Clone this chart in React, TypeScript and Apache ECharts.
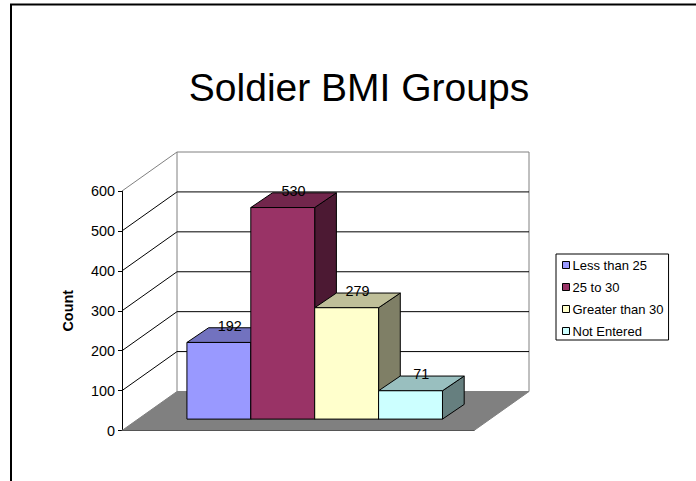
import React, { useEffect, useRef } from "react";
import * as echarts from "echarts";

const groupNames = ["Less than 25", "25 to 30", "Greater than 30", "Not Entered"];
const groupValues = [192, 530, 279, 71];
const frontColors = ["#9999ff", "#993366", "#ffffcc", "#ccffff"];
const topColors = ["#7272bf", "#72264c", "#bfbf99", "#99bfbf"];
const sideColors = ["#4c4c7f", "#4c1933", "#7f7f66", "#667f7f"];
const yTicks = [0, 100, 200, 300, 400, 500, 600];
const titleText = "Soldier BMI Groups";
const axisTitle = "Count";

const wallDx = 55;
const wallDy = -39;
const barDx = 21.7;
const barDy = -14.7;
const barShiftX = 16.7;
const barShiftY = -11.4;
const barRatio = 0.1815;

const pts = (list: number[][]) => ({ points: list });

function renderWalls(_p: any, api: any) {
  const x0 = api.coord([0, 0])[0] - api.size([1, 0])[0] / 2;
  const x1 = x0 + api.size([1, 0])[0];
  const y0 = api.coord([0, 0])[1];
  const yTop = api.coord([0, 600])[1];
  const children: any[] = [
    {
      type: "polygon",
      shape: pts([[x0, y0], [x0 + wallDx, y0 + wallDy], [x1 + wallDx, y0 + wallDy], [x1, y0]]),
      style: { fill: "#808080", stroke: "#808080", lineWidth: 1 },
    },
    {
      type: "polyline",
      shape: pts([[x0, yTop], [x0 + wallDx, yTop + wallDy], [x1 + wallDx, yTop + wallDy], [x1 + wallDx, y0 + wallDy]]),
      style: { fill: "none", stroke: "#808080", lineWidth: 1 },
    },
    {
      type: "line",
      shape: { x1: x0 + wallDx, y1: yTop + wallDy, x2: x0 + wallDx, y2: y0 + wallDy },
      style: { stroke: "#808080", lineWidth: 1 },
    },
  ];
  yTicks.slice(1, -1).forEach((t) => {
    const y = api.coord([0, t])[1];
    children.push({
      type: "polyline",
      shape: pts([[x0, y], [x0 + wallDx, y + wallDy], [x1 + wallDx, y + wallDy]]),
      style: { fill: "none", stroke: "#000000", lineWidth: 1 },
    });
  });
  return { type: "group", children };
}

function makeBar(index: number) {
  return (_p: any, api: any) => {
    const band = api.size([1, 0])[0];
    const center = api.coord([0, 0])[0];
    const w = band * barRatio;
    const left = center + barShiftX + (index - groupValues.length / 2) * w;
    const right = left + w;
    const bottom = api.coord([0, 0])[1] + barShiftY;
    const top = api.coord([0, api.value(1)])[1] + barShiftY;
    const line = { stroke: "#000000", lineWidth: 1, lineJoin: "round" };
    return {
      type: "group",
      children: [
        {
          type: "polygon",
          shape: pts([[right, bottom], [right + barDx, bottom + barDy], [right + barDx, top + barDy], [right, top]]),
          style: { fill: sideColors[index], ...line },
        },
        {
          type: "polygon",
          shape: pts([[left, top], [left + barDx, top + barDy], [right + barDx, top + barDy], [right, top]]),
          style: { fill: topColors[index], ...line },
        },
        {
          type: "rect",
          shape: { x: left, y: top, width: w, height: bottom - top },
          style: { fill: frontColors[index], ...line },
        },
        {
          type: "text",
          z2: 50,
          style: {
            x: (left + right) / 2 + barDx / 2,
            y: top + barDy / 2 - 9.5,
            text: String(api.value(1)),
            fill: "#000000",
            font: '14.4px "Liberation Sans"',
            align: "center",
            verticalAlign: "middle",
          },
        },
      ],
    };
  };
}

export default function App() {
  const ref = useRef<HTMLDivElement>(null);
  useEffect(() => {
    const chart = echarts.init(ref.current!, null, { renderer: "svg" });
    chart.setOption({
      animation: false,
      backgroundColor: "#ffffff",
      textStyle: { fontFamily: "Liberation Sans" },
      title: {
        text: titleText,
        left: 354,
        top: 63,
        textAlign: "center",
        textStyle: { fontFamily: "Liberation Sans", fontSize: 39, fontWeight: "normal", color: "#000000" },
      },
      grid: { left: 122, top: 191, width: 352, height: 239.5 },
      xAxis: {
        type: "category",
        data: [""],
        boundaryGap: true,
        axisTick: { show: false },
        axisLabel: { show: false },
        axisLine: { lineStyle: { color: "#555555", width: 1 } },
        z: 1,
      },
      yAxis: {
        type: "value",
        min: 0,
        max: 600,
        interval: 100,
        name: axisTitle,
        nameLocation: "middle",
        nameGap: 47,
        nameRotate: 90,
        nameTextStyle: { fontFamily: "Liberation Sans", fontSize: 14.4, fontWeight: "bold", color: "#000000" },
        axisLine: { show: true, lineStyle: { color: "#000000", width: 1 } },
        axisTick: { show: true, length: 4, lineStyle: { color: "#000000" } },
        axisLabel: { fontFamily: "Liberation Sans", fontSize: 14.4, color: "#000000", margin: 7 },
        splitLine: { show: false },
      },
      legend: {
        left: 556,
        top: 254,
        orient: "vertical",
        padding: [4.5, 5, 2.5, 6],
        itemWidth: 7,
        itemHeight: 7,
        itemGap: 9,
        borderColor: "#000000",
        borderWidth: 1,
        backgroundColor: "#ffffff",
        icon: "rect",
        textStyle: { fontFamily: "Liberation Sans", fontSize: 13, color: "#000000", padding: [0, 0, 0, -2] },
        data: groupNames.map((name, i) => ({
          name,
          itemStyle: { color: frontColors[i], borderColor: "#000000", borderWidth: 1 },
        })),
      },
      series: [
        {
          type: "custom",
          name: "walls",
          renderItem: renderWalls,
          data: [[0, 0]],
          silent: true,
          z: 1,
        },
        ...groupNames.map((name, i) => ({
          type: "custom",
          name,
          coordinateSystem: "cartesian2d",
          renderItem: makeBar(i),
          itemStyle: { color: frontColors[i] },
          encode: { x: 0, y: 1 },
          data: [[0, groupValues[i]]],
          z: 3,
        })),
      ],
      graphic: [
        { type: "line", shape: { x1: 11, y1: 4, x2: 11, y2: 481 }, style: { stroke: "#000000", lineWidth: 2 } },
        { type: "line", shape: { x1: 10, y1: 4.5, x2: 696, y2: 4.5 }, style: { stroke: "#000000", lineWidth: 2 } },
      ],
    });
    return () => chart.dispose();
  }, []);
  return <div ref={ref} style={{ position: "fixed", left: 0, top: 0, width: 696, height: 481 }} />;
}
